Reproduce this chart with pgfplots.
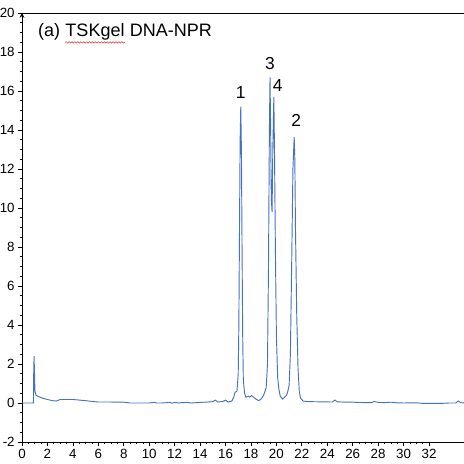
\documentclass[border=0pt]{standalone}
\usepackage{fontspec}
\setmainfont{Liberation Sans}
\usepackage{pgfplots}
\pgfplotsset{compat=1.18}
\usetikzlibrary{calc,decorations.pathmorphing}
\definecolor{trace}{RGB}{68,114,196}
\begin{document}
\begin{tikzpicture}
\begin{axis}[
  scale only axis,
  width=331.5pt, height=321.75pt,
  xmin=0, xmax=34.75, ymin=-2, ymax=20,
  axis x line=box, axis y line=left,
  axis line style={black, line width=0.6pt},
  xtick={0,2,...,32}, ytick={-2,0,...,20},
  minor x tick num=3, minor y tick num=3,
  tick align=outside, tick pos=left,
  major tick length=3pt, minor tick length=1.5pt,
  tick style={black, line width=0.5pt},
  /pgf/number format/assume math mode=true,
  tick label style={font=\fontsize{10}{12}\selectfont},
  xticklabel style={yshift=1pt},
  yticklabel style={xshift=1pt},
  clip=false,
]
\addplot[trace, line width=0.7pt] coordinates {
(0,0) (0.9,0) (0.92,1.5) (0.95,2.4) (0.98,1.6) (1.02,0.6) (1.1,0.4) (1.3,0.33) (1.6,0.25) (2,0.18) (2.4,0.12) (2.7,0.1) (3,0.18) (3.5,0.18) (4,0.18) (4.5,0.15) (5,0.12) (5.5,0.08) (6,0.05) (7,0.05) (8,0.04) (8.5,0.0) (9,0.0) (10,0.0) (10.4,0.03) (10.6,0.0) (11,0.0) (11.6,0.03) (11.8,-0.01) (12,0.03) (12.3,0.0) (12.6,0.02) (13,0.03) (13.3,0.0) (14,0.03) (14.6,0.05) (15,0.07) (15.2,0.15) (15.4,0.05) (15.8,0.08) (16,0.15) (16.2,0.05) (16.5,0.1) (16.65,0.3) (16.75,0.55) (16.9,0.6) (17.0,1.5) (17.05,4) (17.1,9) (17.15,13.5) (17.2,15.2) (17.25,13) (17.3,8) (17.35,3.5) (17.4,1.2) (17.5,0.5) (17.6,0.3) (17.8,0.35) (17.9,0.3) (18.05,0.38) (18.2,0.3) (18.4,0.2) (18.6,0.12) (18.8,0.2) (19.0,0.4) (19.2,0.8) (19.3,2) (19.38,7) (19.45,14) (19.5,16.7) (19.55,14) (19.6,10.5) (19.66,9.8) (19.72,13) (19.8,15.7) (19.85,13) (19.92,8) (20.0,3.5) (20.1,1.3) (20.2,0.7) (20.3,0.35) (20.5,0.2) (20.65,0.3) (20.8,0.4) (20.9,0.6) (21.0,0.9) (21.1,2.5) (21.2,7) (21.3,12) (21.4,13.65) (21.45,12.5) (21.5,9) (21.6,4.5) (21.7,1.8) (21.8,0.6) (21.9,0.25) (22.1,0.1) (22.5,0.07) (23.5,0.06) (24.4,0.05) (24.6,0.15) (24.8,0.06) (25.5,0.04) (26,0.05) (26.3,0.03) (27,0.02) (27.5,0.02) (27.7,0.08) (28,0.03) (28.5,0.02) (29,0.04) (29.5,0.01) (30,0.0) (31,0.01) (31.5,-0.02) (32,-0.02) (33,-0.02) (33.6,0.0) (34.1,0.0) (34.3,0.1) (34.5,0.02) (34.75,0.0)
};
\coordinate (T) at (axis cs:1.25,18.8);
\node[font=\fontsize{13}{15}\selectfont] at (axis cs:17.2,15.9) {1};
\node[font=\fontsize{13}{15}\selectfont] at (axis cs:19.5,17.4) {3};
\node[font=\fontsize{13}{15}\selectfont] at (axis cs:20.1,16.3) {4};
\node[font=\fontsize{13}{15}\selectfont] at (axis cs:21.55,14.5) {2};
\end{axis}
\node[anchor=base west, inner sep=0pt, font=\fontsize{13.5}{16}\selectfont] (ta) at (T) {(a)};
\node[anchor=base west, inner sep=0pt, font=\fontsize{13.5}{16}\selectfont] (tb) at ($(ta.base east)+(3.6pt,0)$) {TSKgel};
\node[anchor=base west, inner sep=0pt, font=\fontsize{13.5}{16}\selectfont] (tc) at ($(tb.base east)+(3.6pt,0)$) {DNA-NPR};
\draw[red!85, line width=0.4pt, decorate, decoration={snake, amplitude=0.5pt, segment length=2.2pt}] ($(tb.base west)+(0,-4.5pt)$) -- ($(tb.base east)+(0,-4.5pt)$);
\pgfresetboundingbox
\path ($(current axis.south west)+(-16.5pt,-16.5pt)$) rectangle ($(current axis.north east)+(0,9.75pt)$);
\end{tikzpicture}
\end{document}
